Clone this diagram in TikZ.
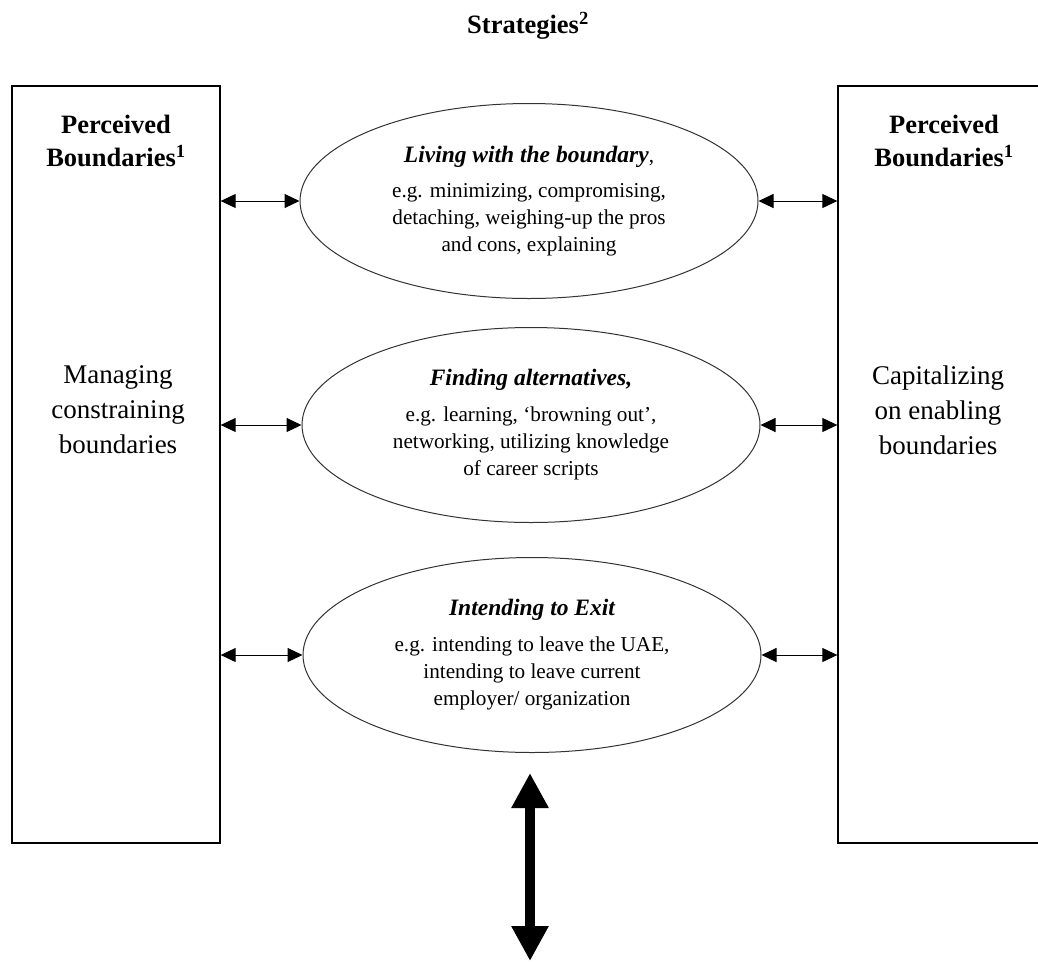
\documentclass[tikz,border=0pt]{standalone}
\usepackage{fontspec}
\setmainfont{Liberation Serif}
\usetikzlibrary{shapes.geometric,arrows.meta}
\newcommand{\strathead}[1]{{\fontsize{23.5}{27}\selectfont\bfseries\itshape #1}}
\begin{document}
\begin{tikzpicture}[x=1pt,y=-1pt,
  bbox/.style={draw,line width=1.3pt,minimum width=208pt,minimum height=757pt,inner sep=0pt},
  strat/.style={draw=black!80,ellipse,line width=1pt,minimum width=458pt,minimum height=195pt,inner sep=0pt,align=center,font=\fontsize{21.2}{27}\selectfont},
  bigtxt/.style={align=center,font=\fontsize{27}{35}\selectfont,inner sep=0pt},
  boldtxt/.style={align=center,font=\fontsize{26.5}{33}\selectfont\bfseries,inner sep=0pt},
  sarrow/.style={line width=1pt,{Triangle[length=15pt,width=14pt]}-{Triangle[length=15pt,width=14pt]}},
  barrow/.style={line width=9.5pt,{Triangle[length=35pt,width=35pt]}-{Triangle[length=35pt,width=35pt]}}
]
\useasboundingbox (0,0) rectangle (1038,962);
\clip (0,0) rectangle (1038,962);
% title
\node[boldtxt] (title) at (528,26) {Strategies\textsuperscript{2}};
% boxes
\node[bbox] (L) at (116,464.5) {};
\node[bbox] (R) at (942,464.5) {};
\node[boldtxt] (Lh) at (116,141) {Perceived\\Boundaries\textsuperscript{1}};
\node[boldtxt] (Rh) at (944,141) {Perceived\\Boundaries\textsuperscript{1}};
\node[bigtxt] (Lt) at (118,410) {Managing\\constraining\\boundaries};
\node[bigtxt] (Rt) at (938,410) {Capitalizing\\on enabling\\boundaries};
% ellipses
\node[strat] (E1) at (529,201) {\strathead{Living with the boundary},\\[8pt]e.g. minimizing, compromising,\\detaching, weighing-up the pros\\and cons, explaining};
\node[strat] (E2) at (531,425) {\strathead{Finding alternatives,}\\[9pt]e.g. learning, ‘browning out’,\\networking, utilizing knowledge\\of career scripts};
\node[strat] (E3) at (532,655) {\strathead{Intending to Exit}\\[9pt]e.g. intending to leave the UAE,\\intending to leave current\\employer/ organization};
% small arrows
\draw[sarrow] (E1.west -| L.east) -- (E1.west);
\draw[sarrow] (E1.east) -- (E1.east -| R.west);
\draw[sarrow] (E2.west -| L.east) -- (E2.west);
\draw[sarrow] (E2.east) -- (E2.east -| R.west);
\draw[sarrow] (E3.west -| L.east) -- (E3.west);
\draw[sarrow] (E3.east) -- (E3.east -| R.west);
% big arrow
\coordinate (btop) at (530,773);
\coordinate (bbot) at (530,961);
\draw[barrow] (btop) -- (bbot);
\end{tikzpicture}
\end{document}
